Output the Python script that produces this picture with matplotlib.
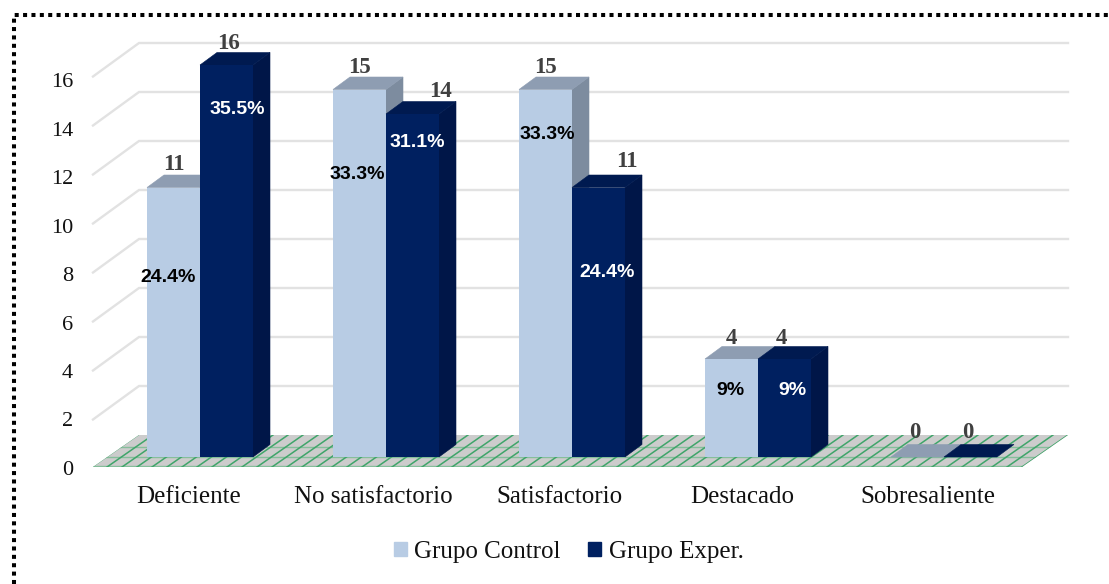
import numpy as np
import matplotlib
matplotlib.use('Agg')
import matplotlib.pyplot as plt
from matplotlib.patches import Polygon, Patch

categories = ['Deficiente', 'No satisfactorio', 'Satisfactorio', 'Destacado', 'Sobresaliente']
series_names = ['Grupo Control', 'Grupo Exper.']
control = [11, 15, 15, 4, 0]
exper = [16, 14, 11, 4, 0]
control_pct = ['24.4%', '33.3%', '33.3%', '9%', '']
exper_pct = ['35.5%', '31.1%', '24.4%', '9%', '']
y_ticks = [0, 2, 4, 6, 8, 10, 12, 14, 16]

# where the percentage labels sit, as value height and shift from bar centre (px)
control_pct_y = [7.32, 11.52, 13.18, 2.7]
control_pct_dx = [-5, -2, 2, -1]
exper_pct_y = [14.2, 12.83, 7.55, 2.7]
exper_pct_dx = [11, 5, 9, 8]
# value labels: shift from bar centre (px)
control_val_dx = [0, 0, 0, 0, -3]
control_val_up = [23, 22, 22, 21, 25]
exper_val_dx = [2, 28, 28, -3, -3]
exper_val_up = [22, 23, 26, 21, 25]
# category labels: shift from category centre (px)
cat_label_dx = [-11, -13, -13, -16, -16]

LIGHT = {'front': '#B8CCE4', 'top': '#8E9DB2', 'side': '#7D8C9F'}
DARK = {'front': '#002060', 'top': '#001A50', 'side': '#001648'}

W, H = 1109, 584
PX_X = 186.0   # pixels per category
PX_Y = 24.5    # pixels per unit of value
X0, Y0 = 200.0, 457.0   # pixel of first category centre, value zero
BAR_W = 53 / PX_X
DEPTH_X, DEPTH_Y = 17 / PX_X, 12.5 / PX_Y
WALL_X, WALL_Y = 46 / PX_X, 32 / PX_Y
FRONT_L, FRONT_R = (93 - X0) / PX_X, (1022 - X0) / PX_X
FLOOR_Y = -10 / PX_Y

SERIF = 'Liberation Serif'
SANS = 'Liberation Sans'

fig = plt.figure(figsize=(W / 100, H / 100), dpi=100)
ax = fig.add_axes([0, 0, 1, 1])
ax.set_xlim(-X0 / PX_X, (W - X0) / PX_X)
ax.set_ylim(-(H - Y0) / PX_Y, Y0 / PX_Y)
ax.axis('off')


def dx(px):
    return px / PX_X


def dy(px):
    return px / PX_Y


# dotted frame, top and left only
ax.plot([dx(14 - X0), dx(14 - X0), dx(W - X0)],
        [-(H - Y0) / PX_Y, dy(Y0 - 15), dy(Y0 - 15)],
        color='black', lw=2.9, ls=(0, (1, 1.08)), dash_capstyle='butt', zorder=1)

# back wall gridlines with their slanted returns
for v in y_ticks[1:]:
    y = FLOOR_Y + v
    ax.plot([FRONT_L, FRONT_L + WALL_X, FRONT_R + WALL_X], [y - dy(1.5), y + WALL_Y, y + WALL_Y],
            color='#E2E2E2', lw=1.7, solid_joinstyle='miter', zorder=1)

# patterned floor
floor_pts = [(FRONT_L, FLOOR_Y), (FRONT_L + WALL_X, FLOOR_Y + WALL_Y),
             (FRONT_R + WALL_X, FLOOR_Y + WALL_Y), (FRONT_R, FLOOR_Y)]
floor = Polygon(floor_pts, closed=True, facecolor='#CCCCCC', edgecolor='none', zorder=2)
ax.add_patch(floor)
for frac in [0.03, 0.32, 0.62]:
    ln, = ax.plot([FRONT_L, FRONT_R + WALL_X], [FLOOR_Y + frac * WALL_Y] * 2,
                  color='#86BE9B', lw=1.0, zorder=3)
    ln.set_clip_path(floor)
for start in np.arange(FRONT_L - WALL_X, FRONT_R + WALL_X, dx(15)):
    ln, = ax.plot([start, start + WALL_X], [FLOOR_Y, FLOOR_Y + WALL_Y],
                  color='#3FA56A', lw=1.1, zorder=3)
    ln.set_clip_path(floor)


def draw_bar(x_left, value, colors, z):
    x_right = x_left + BAR_W
    if value > 0:
        ax.add_patch(Polygon([(x_right, 0), (x_right + DEPTH_X, DEPTH_Y),
                              (x_right + DEPTH_X, value + DEPTH_Y), (x_right, value)],
                             facecolor=colors['side'], edgecolor=colors['side'], lw=0.4, zorder=z))
        ax.bar(x_left, value, BAR_W, align='edge', color=colors['front'], linewidth=0, zorder=z + 0.2)
    ax.add_patch(Polygon([(x_left, value), (x_left + DEPTH_X, value + DEPTH_Y),
                          (x_right + DEPTH_X, value + DEPTH_Y), (x_right, value)],
                         facecolor=colors['top'], edgecolor=colors['top'], lw=0.4, zorder=z + 0.1))


for i in range(len(categories)):
    draw_bar(i - BAR_W, control[i], LIGHT, 4)
    draw_bar(i, exper[i], DARK, 5)

# value labels above the bars
val_style = dict(family=SERIF, fontsize=16.5, fontweight='bold', color='#404040',
                 ha='center', va='center', zorder=8)
for i in range(len(categories)):
    ax.text(i - BAR_W / 2 + dx(control_val_dx[i]), control[i] + dy(control_val_up[i]),
            str(control[i]), **val_style)
    ax.text(i + BAR_W / 2 + dx(exper_val_dx[i]), exper[i] + dy(exper_val_up[i]),
            str(exper[i]), **val_style)

# percentages on the bars
pct_style = dict(family=SANS, fontsize=14, fontweight='bold', ha='center', va='center', zorder=9)
for i in range(4):
    ax.text(i - BAR_W / 2 + dx(control_pct_dx[i]), control_pct_y[i], control_pct[i],
            color='black', **pct_style)
    ax.text(i + BAR_W / 2 + dx(exper_pct_dx[i]), exper_pct_y[i], exper_pct[i],
            color='white', **pct_style)

# value axis and category labels
for v in y_ticks:
    ax.text(dx(73 - X0), dy(Y0 - 470.5 + 24.25 * v), str(v), family=SERIF, fontsize=16,
            color='#111111', ha='right', va='center')
for i, name in enumerate(categories):
    ax.text(i + dx(cat_label_dx[i]), dy(Y0 - 497), name,
            family=SERIF, fontsize=18, color='#111111', ha='center', va='center')

handles = [Patch(color=LIGHT['front'], label=series_names[0]),
           Patch(color=DARK['front'], label=series_names[1])]
ax.legend(handles=handles, loc='center', bbox_to_anchor=(568.5 / W, 1 - 552 / H), ncol=2,
          frameon=False, handlelength=0.52, handleheight=0.52, handletextpad=0.3,
          columnspacing=1.1, prop={'family': SERIF, 'size': 18}, labelcolor='#111111')

fig.savefig('out.png', dpi=100)
